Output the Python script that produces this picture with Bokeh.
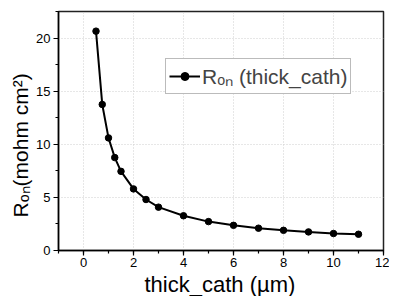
from bokeh.plotting import figure
from bokeh.models import Range1d, Legend, LegendItem, SingleIntervalTicker, Title
from bokeh.embed import file_html
from bokeh.resources import INLINE

thickness = [0.5, 0.75, 1, 1.25, 1.5, 2, 2.5, 3, 4, 5, 6, 7, 8, 9, 10, 11]
ron = [20.65, 13.75, 10.6, 8.75, 7.45, 5.8, 4.8, 4.08, 3.27, 2.72, 2.37, 2.1, 1.9, 1.75, 1.6, 1.53]

x_label = "thick_cath (µm)"
y_label = "Rₒₙ(mohm cm²)"
legend_label = "Rₒₙ (thick_cath)"

FONT = "Liberation Sans"

p = figure(width=389, height=296, output_backend="svg", toolbar_location=None,
           x_range=Range1d(-1, 12), y_range=Range1d(0, 22.5),
           min_border_left=58, min_border_right=6, min_border_top=11, min_border_bottom=45)

ln = p.line(thickness, ron, line_color="black", line_width=2)
sc = p.scatter(thickness, ron, size=6.5, fill_color="black", line_color="black")

p.xaxis.ticker = SingleIntervalTicker(interval=2, num_minor_ticks=2)
p.yaxis.ticker = SingleIntervalTicker(interval=5, num_minor_ticks=2)

for ax in (p.xaxis[0], p.yaxis[0]):
    ax.axis_line_color = "black"
    ax.axis_line_width = 1.5
    ax.major_tick_line_color = "black"
    ax.minor_tick_line_color = "black"
    ax.major_tick_line_width = 1.2
    ax.minor_tick_line_width = 1.2
    ax.major_tick_out = 5
    ax.major_tick_in = 0
    ax.minor_tick_out = 3
    ax.minor_tick_in = 0
    ax.major_label_text_font = FONT
    ax.major_label_text_font_size = "13px"
    ax.major_label_text_color = "black"
p.xaxis.major_label_standoff = 2
p.yaxis.major_label_standoff = 3

xt = Title(text=x_label, align="left", offset=86, standoff=0,
           text_font=FONT, text_font_size="22px", text_font_style="normal",
           text_color="black")
p.add_layout(xt, "below")
yt = Title(text=y_label, align="left", offset=33, standoff=4,
           text_font=FONT, text_font_size="21px", text_font_style="normal",
           text_color="black")
p.add_layout(yt, "left")

p.xgrid.grid_line_color = "#cfcfcf"
p.ygrid.grid_line_color = "#cfcfcf"
p.xgrid.grid_line_dash = "1 2"
p.ygrid.grid_line_dash = "1 2"
p.xgrid.grid_line_width = 1
p.ygrid.grid_line_width = 1

p.outline_line_color = "#222222"
p.outline_line_width = 1.5

legend = Legend(items=[LegendItem(label=legend_label, renderers=[ln, sc])],
                location=(107, 156))
legend.label_text_font = FONT
legend.label_text_font_size = "21px"
legend.border_line_color = "#777777"
legend.border_line_width = 1
legend.glyph_width = 31
legend.padding = 3
legend.margin = 0
legend.spacing = 0
legend.label_standoff = 2
legend.label_height = 20
legend.background_fill_alpha = 1
p.add_layout(legend, "center")

open("out.html", "w").write(file_html(p, INLINE))
